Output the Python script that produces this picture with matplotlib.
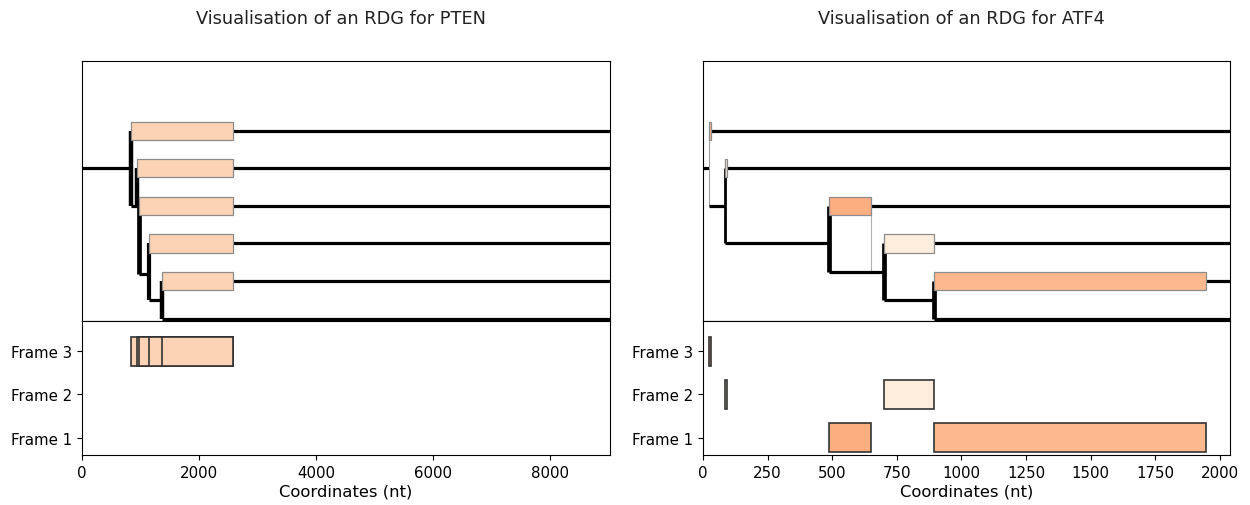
import numpy as np
import matplotlib.pyplot as plt
from matplotlib.patches import Rectangle

# ---- PTEN ----
pten_len = 9030
pten_root = 4
pten_starts = [835, 934, 969, 1151, 1368]
pten_stops = [2589, 2589, 2589, 2589, 2589]
pten_frames = [3, 3, 3, 3, 3]
pten_levels = [5, 4, 3, 2, 1]
pten_skip = [3, 3, 1.2, 0.5, 0]
pten_colors = ['#fdd3b5', '#fdd3b5', '#fdd3b5', '#fdd3b5', '#fdd3b5']
pten_vlw = [3.2, 3.2, 3.4, 3.0, 3.2]
pten_vcol = ['k', 'k', 'k', 'k', 'k']

# ---- ATF4 ----
atf4_len = 2040
atf4_root = 4
atf4_starts = [22, 86, 486, 699, 893]
atf4_stops = [30, 93, 650, 893, 1946]
atf4_frames = [3, 2, 1, 2, 1]
atf4_levels = [5, 4, 3, 2, 1]
atf4_skip = [3, 2, 1.25, 0.5, 0]
atf4_colors = ['#fdb98d', '#feeddd', '#fdae80', '#feeddd', '#fdb98d']
atf4_vlw = [0.8, 2.0, 3.4, 3.4, 3.4]
atf4_vcol = ['#a0a0a0', 'k', 'k', 'k', 'k']
# thin reinitiation link after the stop of the third ORF
atf4_reinit_x = [650]
atf4_reinit_from = [3]
atf4_reinit_to = [1.25]

frame_labels = ['Frame 1', 'Frame 2', 'Frame 3']


def draw_rdg(ax_t, ax_b, length, root, starts, stops, frames, levels, skip,
             colors, vlw, vcol, title):
    hlw = 2.3
    px, py = 0, root
    for s, e, f, lv, sk, c, w, vc in zip(starts, stops, frames, levels, skip,
                                          colors, vlw, vcol):
        ax_t.plot([px, s], [py, py], color='k', lw=hlw, solid_capstyle='butt', zorder=2)
        lo = min(lv, sk, py)
        hi = max(lv, sk, py)
        ax_t.plot([s, s], [lo, hi], color=vc, lw=w, solid_capstyle='butt', zorder=2)
        ax_t.add_patch(Rectangle((s, lv - 0.24), e - s, 0.48, facecolor=c,
                                 edgecolor='#8c8c8c', lw=0.9, zorder=4))
        ax_t.plot([e, length], [lv, lv], color='k', lw=hlw, solid_capstyle='butt', zorder=2)
        ax_b.add_patch(Rectangle((s, f - 0.34), e - s, 0.68, facecolor=c,
                                 edgecolor='#333333', lw=1.2, zorder=3))
        px, py = s, sk
    ax_t.plot([px, length], [py, py], color='k', lw=hlw, solid_capstyle='butt', zorder=2)

    ax_t.set_xlim(0, length)
    ax_t.set_ylim(-0.06, 6.85)
    ax_t.set_xticks([])
    ax_t.set_yticks([])
    ax_t.set_title(title, fontsize=12.8, pad=27, color='#222222', x=0.49)

    ax_b.set_xlim(0, length)
    ax_b.set_ylim(0.6, 3.7)
    ax_b.set_yticks([1, 2, 3])
    ax_b.set_yticklabels(frame_labels)
    ax_b.tick_params(labelsize=10.8)
    ax_b.set_xlabel('Coordinates (nt)', fontsize=11.8, labelpad=3)


fig = plt.figure(figsize=(12.5, 5.06), dpi=100)
h_top = 0.8775 - 0.3636
h_bot = 0.3636 - 0.0988
ax1t = fig.add_axes([0.0656, 0.3636, 0.4224, h_top])
ax1b = fig.add_axes([0.0656, 0.0988, 0.4224, h_bot])
ax2t = fig.add_axes([0.5624, 0.3636, 0.4216, h_top])
ax2b = fig.add_axes([0.5624, 0.0988, 0.4216, h_bot])

draw_rdg(ax1t, ax1b, pten_len, pten_root, pten_starts, pten_stops, pten_frames,
         pten_levels, pten_skip, pten_colors, pten_vlw, pten_vcol,
         'Visualisation of an RDG for PTEN')
draw_rdg(ax2t, ax2b, atf4_len, atf4_root, atf4_starts, atf4_stops, atf4_frames,
         atf4_levels, atf4_skip, atf4_colors, atf4_vlw, atf4_vcol,
         'Visualisation of an RDG for ATF4')

for x, a, b in zip(atf4_reinit_x, atf4_reinit_from, atf4_reinit_to):
    ax2t.plot([x, x], [a, b], color='#b0b0b0', lw=0.8, zorder=1)

ax1b.set_xticks([0, 2000, 4000, 6000, 8000])
ax2b.set_xticks(np.arange(0, 2001, 250))

fig.savefig('out.png', dpi=100)
